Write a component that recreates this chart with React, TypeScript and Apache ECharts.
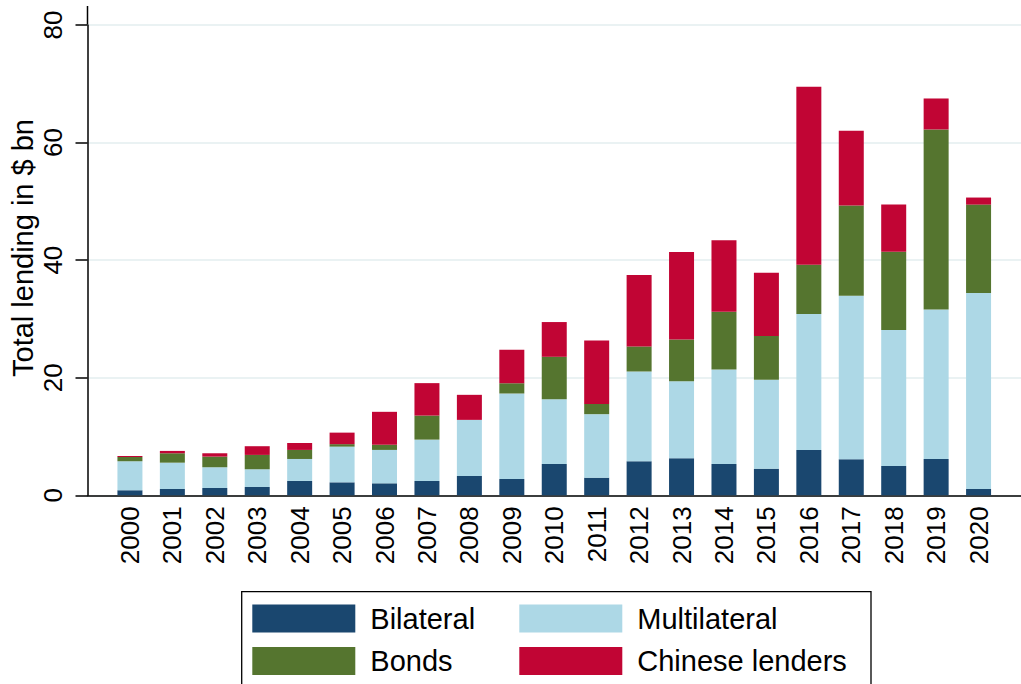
import React, { useEffect, useRef } from "react";
import * as echarts from "echarts";

const years = ["2000", "2001", "2002", "2003", "2004", "2005", "2006", "2007", "2008", "2009", "2010", "2011", "2012", "2013", "2014", "2015", "2016", "2017", "2018", "2019", "2020"];
const bilateral = [0.85, 1.07, 1.24, 1.41, 2.44, 2.2, 2.04, 2.44, 3.29, 2.78, 5.33, 3.0, 5.79, 6.3, 5.33, 4.53, 7.72, 6.13, 4.99, 6.18, 1.07];
const multilateral = [4.95, 4.48, 3.53, 3.02, 3.74, 6.08, 5.68, 7.03, 9.54, 14.53, 11.02, 10.8, 15.27, 13.12, 16.07, 15.11, 23.11, 27.82, 23.11, 25.44, 33.33];
const bonds = [0.7, 1.6, 1.81, 2.44, 1.54, 0.42, 0.88, 4.09, 0, 1.77, 7.21, 1.75, 4.26, 7.08, 9.83, 7.45, 8.4, 15.33, 13.35, 30.61, 15.05];
const chinese = [0.2, 0.4, 0.57, 1.48, 1.18, 1.96, 5.6, 5.52, 4.26, 5.67, 5.91, 10.79, 12.16, 14.9, 12.14, 10.78, 30.27, 12.72, 8.0, 5.27, 1.2];

const seriesNames = ["Bilateral", "Multilateral", "Bonds", "Chinese lenders"];
const seriesColors = ["#1a476f", "#add8e6", "#55752f", "#c10534"];
const seriesValues = [bilateral, multilateral, bonds, chinese];

const FONT = "'Liberation Sans', Arial, sans-serif";

export default function App() {
  const ref = useRef<HTMLDivElement>(null);
  useEffect(() => {
    if (!ref.current) return;
    const chart = echarts.init(ref.current, null, { renderer: "svg" });
    // one empty padding slot on each side of the year axis
    const categories = ["", ...years, ""];
    const legendCommon = {
      orient: "vertical",
      top: 604,
      itemWidth: 103,
      itemHeight: 28,
      itemGap: 13.5,
      padding: 0,
      icon: "rect",
      selectedMode: false,
      textStyle: { fontSize: 29, color: "#000", fontFamily: FONT, lineHeight: 28, padding: [0, 0, 0, 10] },
    };
    chart.setOption({
      animation: false,
      backgroundColor: "#fff",
      textStyle: { fontFamily: FONT },
      grid: { left: 87.5, right: -3.7, top: 25, bottom: 684 - 495.3, containLabel: false },
      xAxis: {
        type: "category",
        data: categories,
        boundaryGap: false,
        axisLine: { show: true, lineStyle: { color: "#000", width: 1.5 } },
        axisTick: { show: false },
        splitLine: { show: false },
        axisLabel: {
          interval: 0,
          rotate: 90,
          margin: 11,
          fontSize: 26,
          color: "#000",
          fontFamily: FONT,
        },
      },
      yAxis: {
        type: "value",
        min: 0,
        max: 80,
        interval: 20,
        axisLine: { show: true, lineStyle: { color: "#000", width: 1.5 } },
        axisTick: { show: true, length: 12, lineStyle: { color: "#000", width: 1.5 } },
        splitLine: { show: true, lineStyle: { color: "#eaf2f3", width: 2 } },
        axisLabel: {
          rotate: 90,
          margin: 22,
          fontSize: 26,
          color: "#000",
          fontFamily: FONT,
        },
      },
      legend: [
        { ...legendCommon, left: 252.3, data: ["Bilateral", "Bonds"] },
        { ...legendCommon, left: 519.3, data: ["Multilateral", "Chinese lenders"] },
      ],
      graphic: [
        {
          type: "line",
          shape: { x1: 87.5, y1: 6, x2: 87.5, y2: 25 },
          style: { stroke: "#000", lineWidth: 1.5 },
        },
        {
          type: "text",
          x: 23,
          y: 248,
          rotation: Math.PI / 2,
          style: {
            text: "Total lending in $ bn",
            fontSize: 29,
            fontFamily: FONT,
            fill: "#000",
            align: "center",
            verticalAlign: "middle",
          },
        },
        {
          type: "rect",
          shape: { x: 241.7, y: 591.7, width: 629.3, height: 130 },
          style: { fill: "none", stroke: "#000", lineWidth: 1.3 },
        },
      ],
      series: seriesNames.map((name, i) => ({
        name,
        type: "bar",
        stack: "total",
        barWidth: 25,
        itemStyle: { color: seriesColors[i] },
        data: ["-", ...seriesValues[i], "-"],
      })),
    });
    return () => chart.dispose();
  }, []);
  return <div ref={ref} style={{ position: "absolute", left: 0, top: 0, width: 1021, height: 684 }} />;
}
